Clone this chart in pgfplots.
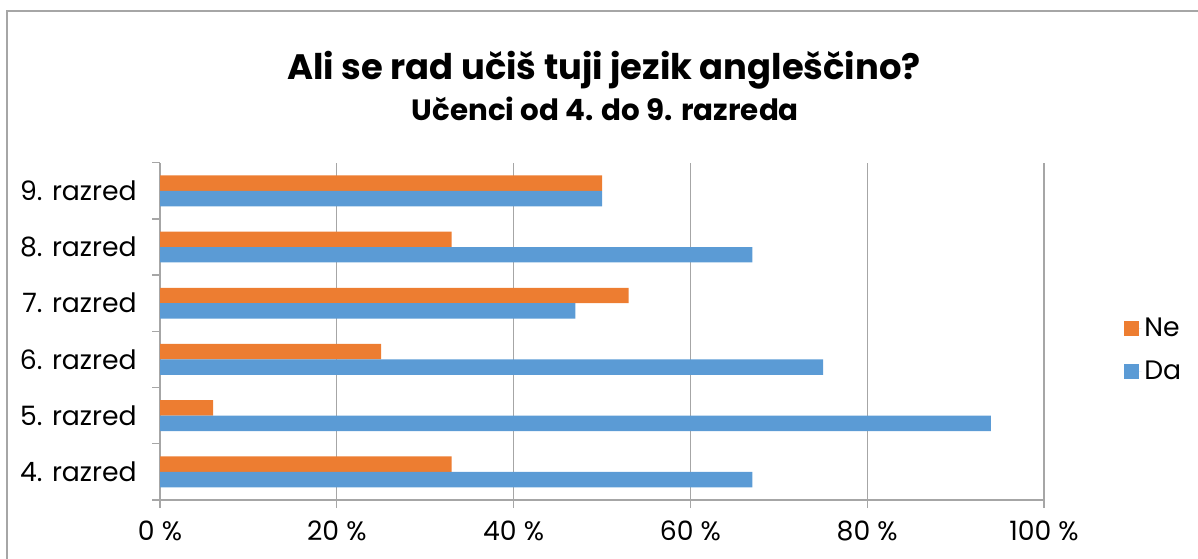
\documentclass[border=0pt]{standalone}
\usepackage{pgfplots}
\pgfplotsset{compat=1.18}
\usepackage{fontspec}
\setmainfont{Poppins}
\definecolor{ne}{HTML}{ED7D31}
\definecolor{da}{HTML}{5B9BD5}
\definecolor{gr}{HTML}{A6A6A6}
\begin{document}
\begin{tikzpicture}
\useasboundingbox (0,0) rectangle (898.5pt,418.5pt);
\clip (0,0) rectangle (898.5pt,418.5pt);
\draw[gr, line width=1.1pt] (5.25pt,-20pt) rectangle (920pt,410.25pt);
\node[anchor=base, font=\fontsize{26.5}{30}\selectfont\bfseries] at (453pt,358.5pt) {Ali se rad učiš tuji jezik angleščino?};
\node[anchor=base, font=\fontsize{22}{26}\selectfont\bfseries] at (454pt,327.75pt) {Učenci od 4. do 9. razreda};
\begin{axis}[
  at={(120pt,43.5pt)}, anchor=south west,
  scale only axis, width=663pt, height=253pt,
  xbar, bar width=11.6pt,
  xmin=0, xmax=100, ymin=-0.5, ymax=5.5,
  axis lines*=left,
  axis line style={gr, line width=1pt},
  xtick={0,20,...,100},
  xticklabel={\pgfmathprintnumber{\tick}~\%},
  xmajorgrids, grid style={gr, line width=1pt},
  ytick={0,...,5},
  yticklabels={4. razred,5. razred,6. razred,7. razred,8. razred,9. razred},
  minor ytick={-0.5,0.5,...,5.5},
  major tick length=0pt,
  minor tick length=6pt,
  tick align=outside,
  extra x ticks={0,20,...,100}, extra x tick labels={},
  extra x tick style={major tick length=6pt, tick style={gr, line width=1pt}, grid=none},
  tick style={gr, line width=1pt},
  minor tick style={gr, line width=1pt},
  ticklabel style={font=\fontsize{20}{24}\selectfont, text=black},
  yticklabel style={xshift=-14pt},
  xticklabel style={yshift=-12pt},
  /pgf/number format/assume math mode=true,
  legend style={draw=none, fill=none, at={(1.086,0.445)}, anchor=west, font=\fontsize{20}{24}\selectfont, row sep=13pt},
  legend cell align=left,
  legend image code/.code={\fill[#1] (0pt,-5.6pt) rectangle (11.2pt,5.6pt); \path (0pt,0pt) -- (13pt,0pt);},
]
\addplot[draw=none, fill=ne, bar shift=5.8pt] coordinates {(33,0) (6,1) (25,2) (53,3) (33,4) (50,5)};
\addplot[draw=none, fill=da, bar shift=-5.8pt] coordinates {(67,0) (94,1) (75,2) (47,3) (67,4) (50,5)};
\legend{Ne,Da}
\end{axis}
\end{tikzpicture}
\end{document}
